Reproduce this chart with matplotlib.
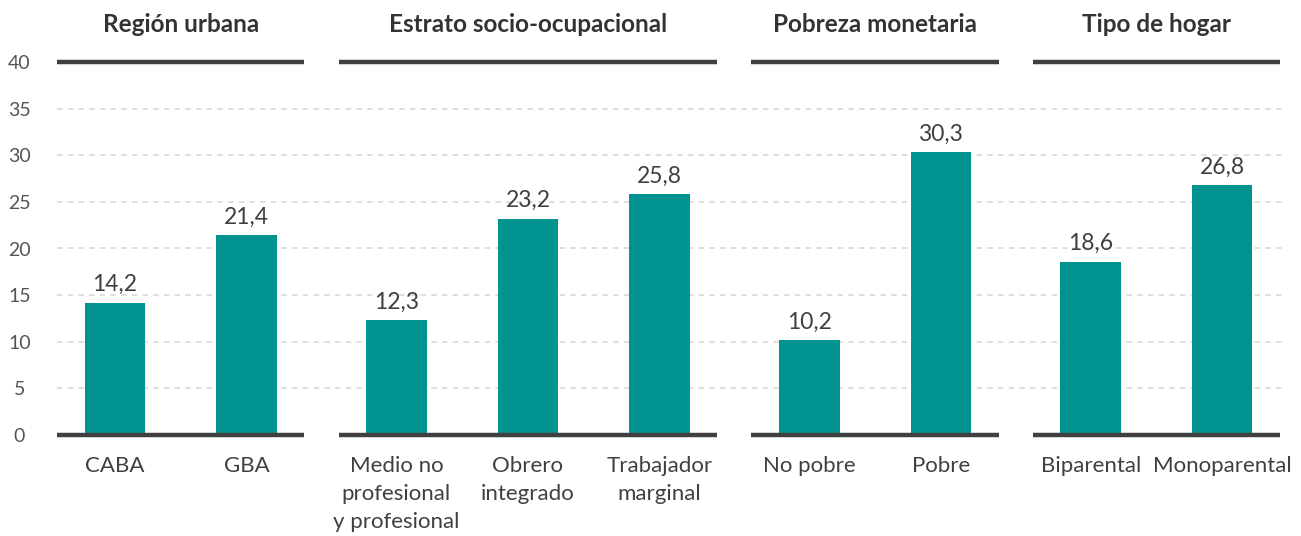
"""Bar chart by group: porcentaje por región, estrato, pobreza y tipo de hogar
"""

import numpy as np
import matplotlib.pyplot as plt

groups = ['Región urbana', 'Estrato socio-ocupacional',
          'Pobreza monetaria', 'Tipo de hogar']
categories = [
    ['CABA', 'GBA'],
    ['Medio no\nprofesional\ny profesional', 'Obrero\nintegrado',
     'Trabajador\nmarginal'],
    ['No pobre', 'Pobre'],
    ['Biparental', 'Monoparental'],
]
values = [
    [14.2, 21.4],
    [12.3, 23.2, 25.8],
    [10.2, 30.3],
    [18.6, 26.8],
]
yticks = [0, 5, 10, 15, 20, 25, 30, 35, 40]

teal = '#00938f'
dark = '#404040'
text_c = '#404040'
font = 'Lato'

W, H = 1301, 536
fig = plt.figure(figsize=(W / 100, H / 100), dpi=100)
# axes in pixel terms: x 57..1285, y 62..435 (top down)
ax = fig.add_axes([57 / W, (H - 435) / H, (1285 - 57) / W, (435 - 62) / H])

gap = 1.14     # step between last bar of a group and first of the next
bar_w = 0.46
ext = 0.44     # how far the group rule reaches past the outer bars

x = 0.0
for gi, (g, cats, vals) in enumerate(zip(groups, categories, values)):
    pos = x + np.arange(len(vals))
    ax.bar(pos, vals, width=bar_w, color=teal, zorder=3)
    for p, v, c in zip(pos, vals, cats):
        ax.text(p, v + 0.8, f'{v:.1f}'.replace('.', ','), ha='center',
                va='bottom', fontsize=16.5, color=text_c, family=font,
                zorder=5)
        ax.text(p, -2.3, c, ha='center', va='top', fontsize=16,
                color=text_c, family=font, linespacing=1.5)
    x0, x1 = pos[0] - ext, pos[-1] + ext
    for yy in (0, 40):
        ax.plot([x0, x1], [yy, yy], color=dark, lw=3.2,
                solid_capstyle='butt', clip_on=False, zorder=4)
    ax.text((x0 + x1) / 2, 44.0, g, ha='center', va='center', fontsize=17.5,
            fontweight='bold', color='#333333', family=font)
    x = pos[-1] + gap

for yy in yticks[1:-1]:
    ax.axhline(yy, color='#d4d4d4', lw=1.1, dashes=(3.5, 3.5), zorder=1)

ax.set_xlim((57 - 115) / 131.5, (1285 - 115) / 131.5)
ax.set_ylim(0, 40)
ax.set_yticks(yticks)
ax.set_yticklabels([str(t) for t in yticks], fontsize=14, color='#555555',
                   family=font, ha='center')
ax.tick_params(axis='y', length=0, pad=27)
ax.set_xticks([])
for s in ax.spines.values():
    s.set_visible(False)

fig.savefig('out.png', dpi=100)
